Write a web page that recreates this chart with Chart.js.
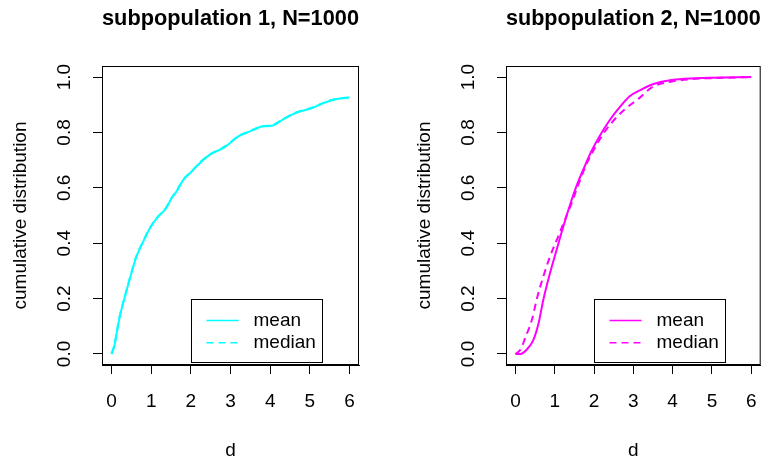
<!DOCTYPE html>
<html>
<head>
<meta charset="utf-8">
<script src="https://cdn.jsdelivr.net/npm/chart.js@4.4.1/dist/chart.umd.min.js"></script>
<style>
  html, body { margin: 0; padding: 0; background: #fff; overflow: hidden; }
  #wrap { position: relative; width: 773px; height: 461px; }
  #c1 { position: absolute; left: 0; top: 0; }
  #c2 { position: absolute; left: 404px; top: 0; }
</style>
</head>
<body>
<div id="wrap">
  <canvas id="c1" width="386" height="461"></canvas>
  <canvas id="c2" width="369" height="461"></canvas>
</div>
<script>
// ---- data ----
const xTicks = [0, 1, 2, 3, 4, 5, 6];
const yTicks = [0, 0.2, 0.4, 0.6, 0.8, 1.0];
const yTickLabels = ["0.0", "0.2", "0.4", "0.6", "0.8", "1.0"];
const seriesNames = ["mean", "median"];

// subpopulation 1
const d1 = [0, 0.08, 0.13, 0.21, 0.34, 0.55, 0.63, 0.8, 0.97, 1.18, 1.35, 1.52, 1.64, 1.81, 2.02, 2.23, 2.48, 2.82, 2.99, 3.2, 3.49, 3.83, 4.04, 4.38, 4.67, 5.05, 5.34, 5.68, 6.0];
const mean1 = [0, 0.034, 0.076, 0.136, 0.208, 0.316, 0.352, 0.406, 0.455, 0.497, 0.521, 0.563, 0.587, 0.629, 0.659, 0.69, 0.72, 0.744, 0.762, 0.786, 0.804, 0.822, 0.824, 0.852, 0.872, 0.888, 0.906, 0.921, 0.926];
const median1 = [0, 0.036, 0.078, 0.138, 0.21, 0.318, 0.354, 0.408, 0.456, 0.498, 0.523, 0.565, 0.589, 0.63, 0.66, 0.692, 0.721, 0.746, 0.763, 0.787, 0.805, 0.823, 0.826, 0.853, 0.873, 0.889, 0.907, 0.922, 0.927];

// subpopulation 2
const d2mean = [0, 0.13, 0.29, 0.46, 0.59, 0.71, 0.88, 1.05, 1.22, 1.39, 1.55, 1.76, 1.93, 2.14, 2.35, 2.6, 2.9, 3.19, 3.53, 3.9, 4.32, 5.0, 6.0];
const mean2 = [0, 0, 0.016, 0.052, 0.112, 0.196, 0.292, 0.377, 0.461, 0.539, 0.605, 0.677, 0.731, 0.786, 0.834, 0.882, 0.93, 0.954, 0.976, 0.988, 0.994, 0.998, 1.0];
const d2med = [0, 0.13, 0.25, 0.42, 0.55, 0.71, 0.88, 1.09, 1.26, 1.43, 1.6, 1.8, 2.02, 2.22, 2.48, 2.77, 3.15, 3.48, 3.99, 4.49, 5.0, 6.0];
const median2 = [0, 0.016, 0.058, 0.124, 0.202, 0.28, 0.352, 0.425, 0.485, 0.545, 0.611, 0.683, 0.744, 0.792, 0.84, 0.882, 0.924, 0.964, 0.984, 0.993, 0.996, 1.0];

const FONT = "'Liberation Sans', Arial, Helvetica, sans-serif";

const pts = (xs, ys) => xs.map((x, i) => ({ x, y: ys[i] }));

// R-like box around the plot region + legend at (2, 0.2)
const rBox = {
  id: "rBox",
  afterDraw(chart) {
    const { ctx, chartArea: a, scales } = chart;
    ctx.save();
    ctx.strokeStyle = "#000";
    ctx.lineWidth = 1;
    ctx.strokeRect(a.left + 0.5, a.top + 0.5, a.right - a.left - 1, a.bottom - a.top - 1);

    // legend
    ctx.font = "19px " + FONT;
    const ds = chart.data.datasets;
    const textW = Math.max(...ds.map(d => ctx.measureText(d.label).width));
    const bx = Math.round(scales.x.getPixelForValue(2)) + 0.5;
    const by = Math.round(scales.y.getPixelForValue(0.2)) + 0.5;
    const bw = Math.round(62 + textW + 7);
    const bh = 63;
    ctx.fillStyle = "#fff";
    ctx.fillRect(bx, by, bw, bh);
    ctx.strokeRect(bx, by, bw, bh);
    ds.forEach((d, i) => {
      const ry = by + 21 + i * 22.3;
      ctx.strokeStyle = d.borderColor;
      ctx.lineWidth = 1.5;
      ctx.setLineDash(d.borderDash || []);
      ctx.beginPath();
      ctx.moveTo(bx + 15, ry);
      ctx.lineTo(bx + 47, ry);
      ctx.stroke();
      ctx.setLineDash([]);
      ctx.fillStyle = "#000";
      ctx.textBaseline = "middle";
      ctx.textAlign = "left";
      ctx.fillText(d.label, bx + 62, ry);
    });
    ctx.restore();
  }
};

function makePanel(id, title, color, meanPts, medianPts, rightPad) {
  new Chart(document.getElementById(id), {
    type: "line",
    data: {
      datasets: [
        { label: seriesNames[0], data: meanPts, borderColor: color, borderWidth: 2, pointRadius: 0, cubicInterpolationMode: "monotone" },
        { label: seriesNames[1], data: medianPts, borderColor: color, borderWidth: 2, borderDash: [7, 5], pointRadius: 0, cubicInterpolationMode: "monotone" },
      ]
    },
    options: {
      responsive: false,
      animation: false,
      events: [],
      layout: { padding: { left: 0, right: rightPad, top: 0, bottom: 0 } },
      plugins: {
        legend: { display: false },
        tooltip: { enabled: false },
        title: {
          display: true, text: title, fullSize: false, color: "#000",
          font: { family: FONT, size: 22, weight: "bold", lineHeight: 1 },
          padding: { top: 8, bottom: 36 }
        }
      },
      scales: {
        x: {
          type: "linear", min: -0.24, max: 6.24,
          afterBuildTicks: s => { s.ticks = xTicks.map(v => ({ value: v })); },
          afterFit: s => { s.height = 96; },
          grid: { display: true, drawOnChartArea: false, drawTicks: true, tickLength: 9, color: "#000" },
          border: { display: true, color: "#000" },
          ticks: { autoSkip: false, maxRotation: 0, padding: 16, color: "#000", font: { family: FONT, size: 19 } },
          title: { display: true, text: "d", color: "#000", font: { family: FONT, size: 19, lineHeight: 1 }, padding: { top: 0, bottom: 1 } }
        },
        y: {
          type: "linear", min: -0.04, max: 1.04,
          afterBuildTicks: s => { s.ticks = yTicks.map(v => ({ value: v })); },
          afterFit: s => { s.width = 102; },
          grid: { display: true, drawOnChartArea: false, drawTicks: true, tickLength: 9, color: "#000" },
          border: { display: true, color: "#000" },
          ticks: {
            autoSkip: false, minRotation: 90, maxRotation: 90, crossAlign: "center", padding: 15,
            color: "#000", font: { family: FONT, size: 19 },
            callback: (v, i) => yTickLabels[i]
          },
          title: { display: true, text: "cumulative distribution", color: "#000", font: { family: FONT, size: 19, lineHeight: 1 }, padding: { top: 11, bottom: 0 } }
        }
      }
    },
    plugins: [rBox]
  });
}

makePanel("c1", "subpopulation 1, N=1000", "#00ffff", pts(d1, mean1), pts(d1, median1), 27);
makePanel("c2", "subpopulation 2, N=1000", "#ff00ff", pts(d2mean, mean2), pts(d2med, median2), 11);
</script>
</body>
</html>
